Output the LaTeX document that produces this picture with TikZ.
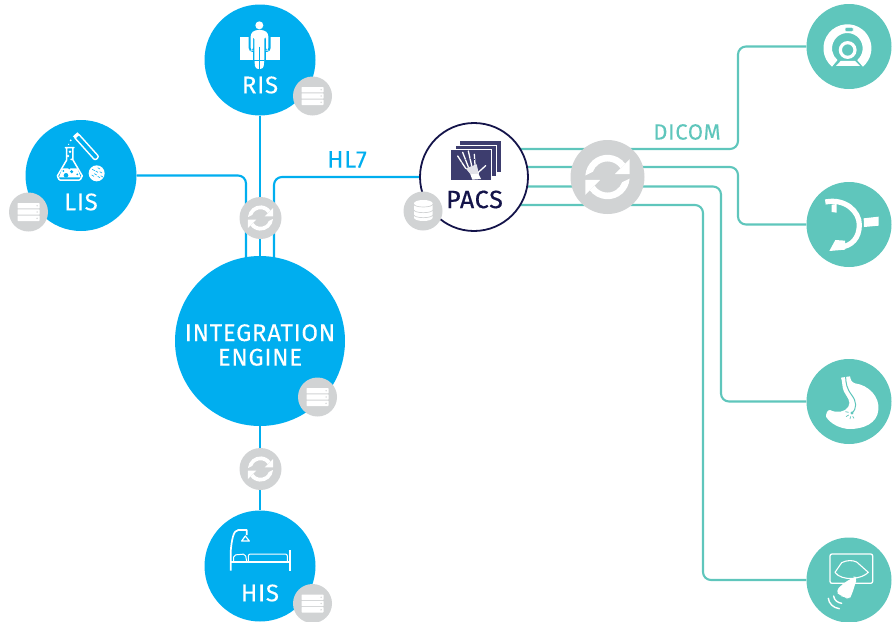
\documentclass[tikz,border=0pt]{standalone}
\usepackage{fontspec}
\setmainfont{Fira Sans}[LetterSpace=3,FakeBold=0.15]
\newfontfamily\pacsfont{Fira Sans}[LetterSpace=3,FakeBold=0.6]
\usetikzlibrary{calc,backgrounds}
\definecolor{hubblue}{HTML}{00AEEF}
\definecolor{hubteal}{HTML}{5FC6BC}
\definecolor{badgegray}{HTML}{D1D3D4}
\definecolor{pacsnavy}{HTML}{14144A}
\definecolor{filmnavy}{HTML}{3D3D6E}
\tikzset{
  hub/.style={circle,fill=hubblue,draw=none,inner sep=0pt,minimum size=#1},
  device/.style={circle,fill=hubteal,draw=none,inner sep=0pt,minimum size=85pt},
  pacshub/.style={circle,fill=white,draw=pacsnavy,line width=1.8pt,inner sep=0pt,minimum size=108pt},
  badge/.style={circle,fill=badgegray,draw=none,inner sep=0pt,minimum size=39pt},
  syncdisc/.style={circle,fill=badgegray,draw=none,inner sep=0pt,minimum size=#1},
  hubtext/.style={text=white,font=\fontsize{24}{24}\selectfont,inner sep=0pt},
  wire/.style={draw=hubblue,line width=2.1pt,rounded corners=8pt},
  tealwire/.style={draw=hubteal,line width=2.1pt,rounded corners=8pt},
  zc/.style={shift={#1},x=.33333pt,y=-.33333pt},
  linework/.style={draw=white,line width=1.3pt,line join=round,line cap=round,fill=none}
}
\newcommand{\syncico}[2]{%
  \begin{scope}[shift={#1},x=#2pt,y=#2pt]
    \foreach \r in {0,180}{
      \begin{scope}[rotate=\r]
        \fill[white] (176:.60) arc[start angle=176,end angle=37,radius=.60]
          -- (34:.42) arc[start angle=34,end angle=160,radius=.42] -- cycle;
        \fill[white] (.60,.48) -- (.60,.08) -- (.20,.08) -- cycle;
      \end{scope}
    }
  \end{scope}}
\newcommand{\serverico}[1]{%
  \begin{scope}[shift={#1}]
    \foreach \dy in {-6.3,0,6.3}{
      \fill[white,rounded corners=.6pt] (-11,\dy-2.7) rectangle (11,\dy+2.7);
      \fill[badgegray] (8.6,\dy) circle (.8);
    }
  \end{scope}}
\begin{document}
\begin{tikzpicture}[x=1pt,y=-1pt]
\useasboundingbox (0,0) rectangle (894,621);
% main nodes
\node[hub=111pt] (ris) at (260,60) {};
\node[hub=111pt] (lis) at (81,175.5) {};
\node[hub=170pt] (engine) at (260,341) {};
\node[hub=111pt] (his) at (260,566) {};
\node[pacshub] (pacs) at (474,177) {};
\node[device] (ct) at (849,46.5) {};
\node[device] (carm) at (849,224.5) {};
\node[device] (gastro) at (849,401.5) {};
\node[device] (echo) at (849,580) {};
\coordinate (busA) at (738,100);
\coordinate (busB) at (738,200);
\coordinate (busC) at (721,300);
\coordinate (busD) at (703,400);
% connectors
\begin{scope}[on background layer]
  \draw[wire] (ris) -- (engine);
  \draw[wire] (engine) -- (his);
  \draw[wire] (lis.east) -| ($(engine)+(-14,0)$);
  \draw[wire] (pacs.west) -| ($(engine)+(14,0)$);
  \draw[tealwire] ($(pacs)+(0,-28)$) -| (busA) |- (ct);
  \draw[tealwire] ($(pacs)+(0,-10)$) -| (busB) |- (carm);
  \draw[tealwire] ($(pacs)+(0,9.5)$) -| (busC) |- (gastro);
  \draw[tealwire] ($(pacs)+(0,28)$) -| (busD) |- (echo);
\end{scope}
% sync discs
\node[syncdisc=42pt] (syncA) at (260.5,218) {};
\node[syncdisc=42pt] (syncB) at (260.5,469) {};
\node[syncdisc=74pt] (syncC) at (607.5,177) {};
\syncico{(260.5,218)}{21}
\syncico{(260.5,469)}{21}
\syncico{(607.5,177)}{37}
% badges
\node[badge] (risbadge) at (312.5,96) {};
\node[badge] (lisbadge) at (28.5,212) {};
\node[badge] (enginebadge) at (317.5,397) {};
\node[badge] (hisbadge) at (312.5,603.5) {};
\node[badge] (pacsbadge) at (423,211) {};
\serverico{(312.5,96)}
\serverico{(28.5,212)}
\serverico{(317.5,397)}
\serverico{(312.5,603.5)}
% database icon
\begin{scope}[zc={(395,115)}]
  \fill[white] (57,265) -- (57,308) arc[start angle=180,end angle=0,x radius=28,y radius=10]
     -- (113,265) arc[start angle=0,end angle=-180,x radius=28,y radius=10] -- cycle;
  \foreach \yy in {268,285,300}
    \draw[badgegray,line width=.7pt] (57,\yy) arc[start angle=180,end angle=0,x radius=28,y radius=8];
\end{scope}
% labels
\node[hubtext] (ristext) at (260,85) {RIS};
\node[hubtext] (listext) at (81,202) {LIS};
\node[hubtext] (histext) at (260,593) {HIS};
\node[hubtext,text=pacsnavy,font=\fontsize{25}{25}\selectfont\pacsfont] (pacstext) at (474.5,199.5) {PACS};
\node[hubtext,align=center,font=\fontsize{24}{24.5}\selectfont] (enginetext) at (260,345) {INTEGRATION\\ENGINE};
\node[text=hubblue,font=\fontsize{24}{24}\selectfont,inner sep=0pt] (hl) at (347,159.5) {HL7};
\node[text=hubteal,font=\fontsize{22}{22}\selectfont,inner sep=0pt] (dicom) at (687,132) {DICOM};
% RIS person
\begin{scope}[zc={(200,0)}]
  \fill[white] (120,110) rectangle (240,180);
  \fill[hubblue,rounded corners=4pt] (146,84) rectangle (212,156);
  \fill[hubblue] (160,150) rectangle (198,182);
  \fill[white] (178,76) circle (12);
  \fill[white,rounded corners=3pt] (152,152) -- (152,100) -- (165,90) -- (192,90) -- (205,100) -- (205,152) -- (198,152) -- (198,108) -- (193,108) -- (193,180) -- (190,207) -- (166,207) -- (163,180) -- (163,108) -- (159,108) -- (159,152) -- cycle;
  \draw[hubblue,line width=.7pt] (178,140) -- (178,207);
  \draw[hubblue,line width=.6pt] (163,180) -- (193,180);
\end{scope}
% LIS flask, tube, dish
\begin{scope}[zc={(0,115)}]
  \draw[linework,line width=1.5pt] (196,98) -- (222,98) (200,98) -- (200,135) -- (172,183) to[out=90,in=180] (180,195) -- (238,195) to[out=0,in=90] (247,183) -- (219,135) -- (219,98);
  \fill[white] (187,160) -- (232,160) -- (242,187) -- (177,187) -- cycle;
  \foreach \a/\b/\c in {198/181/7, 215/170/5, 190/168/3, 232/178/3, 208/160/3}
    \fill[hubblue] (\a,\b) circle (\c);
  \foreach \a/\b/\c in {210/110/4, 204/123/4, 214/133/3, 212/76/3, 206/88/2}
    \fill[white] (\a,\b) circle (\c);
  \begin{scope}[shift={(259,95)},rotate=-48]
    \draw[linework,line width=1.4pt,rounded corners=2pt] (-46,-8) rectangle (48,8);
    \fill[white] (-50,-9) rectangle (-40,9);
  \end{scope}
  \fill[white] (290,175) circle (24);
  \foreach \a/\b in {280/165, 296/160, 302/172, 286/178, 296/186, 278/182, 305/184, 290/170}
    \draw[hubblue,line width=.6pt] (\a-3,\b-2) -- (\a+4,\b+2);
\end{scope}
% HIS bed
\begin{scope}[zc={(200,440)}]
  \draw[linework,line width=1.7pt,line cap=butt] (92,392) -- (92,335) .. controls (95,300) and (100,270) .. (115,270) -- (140,270) -- (140,285);
  \draw[linework,line width=1.2pt] (136,288) -- (148,303) -- (125,303) -- cycle;
  \draw[linework,line width=1.8pt,line cap=butt] (270,330) -- (270,392) (92,366) -- (270,366);
  \draw[linework,line width=1pt,rounded corners=2pt] (101,364) -- (101,345) -- (136,342) -- (140,364);
  \draw[linework,line width=1pt,rounded corners=2pt] (145,364) -- (145,342) -- (262,342) -- (262,364);
\end{scope}
% PACS films
\begin{scope}[zc={(395,115)}]
  \fill[filmnavy] (195,78) rectangle (318,171);
  \draw[white,line width=.7pt,fill=filmnavy] (180,90) rectangle (304,184);
  \draw[white,line width=.7pt,fill=filmnavy] (165,102) rectangle (290,197);
  \fill[white,opacity=.85] (212,160) -- (245,148) -- (252,178) -- (228,180) -- cycle;
  \foreach \x/\y/\u/\v in {212/160/188/123, 220/156/203/112, 230/152/220/108, 240/150/238/118, 250/172/272/152}
    \draw[white,line width=1.3pt,line cap=round] (\u,\v) -- (\x,\y);
  \foreach \x/\y/\u/\v in {200/142/203/139, 212/134/215/132, 225/130/228/129, 238/134/241/134}
    \draw[filmnavy,line width=.5pt] (\x,\y) -- (\u,\v);
  \fill[white] (226,178) -- (250,176) -- (258,192) -- (232,194) -- cycle;
\end{scope}
% CT
\begin{scope}[zc={(800,0)}]
  \fill[white] (96,200) arc[start angle=130,end angle=410,radius=72]
     -- ($(142,145)+(50:46)$) arc[start angle=50,end angle=-230,radius=46] -- cycle;
  \draw[white,line width=3.2pt] (143,150) circle (22);
  \fill[white] (122,183) -- (165,183) -- (180,198) -- (108,198) -- cycle;
  \draw[white,line width=.8pt,fill=hubteal,rounded corners=1pt] (135,82) rectangle (160,95);
\end{scope}
% C-arm
\begin{scope}[zc={(800,178)}]
  \draw[white,line width=5.2pt,line cap=butt] (76,72) .. controls (135,60) and (178,100) .. (178,140) .. controls (178,180) and (155,205) .. (120,207);
  \fill[white] (95,80) -- (110,78) -- (110,104) -- (95,102) -- cycle;
  \fill[white] (106,186) -- (135,188) -- (135,215) -- (88,219) -- cycle;
  \fill[white] (191,121) -- (236,116) -- (236,143) -- (192,147) -- cycle;
\end{scope}
% stomach
\begin{scope}[zc={(800,355)}]
  \fill[white] (123,68) -- (150,64) .. controls (152,75) and (155,82) .. (165,85)
    .. controls (205,90) and (240,125) .. (235,165)
    .. controls (232,205) and (190,222) .. (150,222)
    .. controls (120,222) and (90,205) .. (78,185)
    .. controls (78,175) and (82,165) .. (90,165)
    .. controls (110,175) and (135,172) .. (145,155)
    .. controls (155,140) and (140,125) .. (132,110)
    .. controls (125,95) and (128,80) .. (123,68) -- cycle;
  \draw[hubteal,line width=1pt] (137,62) .. controls (137,85) and (140,100) .. (155,120) .. controls (170,140) and (172,160) .. (155,175);
  \fill[hubteal] (156,174) circle (5);
  \draw[hubteal,line width=.7pt] (146,172) -- (136,170) (146,180) -- (138,185) (152,184) -- (150,192) (158,184) -- (162,190);
\end{scope}
% ultrasound
\begin{scope}[zc={(800,530)}]
  \draw[linework,rounded corners=2pt] (90,72) rectangle (218,160);
  \draw[linework,line width=1.1pt] (125,98) .. controls (140,90) and (158,90) .. (170,96) -- (205,127) .. controls (185,148) and (125,155) .. (105,127) -- cycle;
  \fill[white,rounded corners=4pt] (172,142) -- (163,140) -- (130,160) -- (107,183) -- (120,198) -- (135,200) -- (147,210) -- (155,195) -- cycle;
  \draw[linework,line width=1.4pt] (101,198) .. controls (102,210) and (112,218) .. (125,220);
  \draw[linework,line width=1.4pt] (85,205) .. controls (86,220) and (100,234) .. (118,236);
\end{scope}
\end{tikzpicture}
\end{document}
